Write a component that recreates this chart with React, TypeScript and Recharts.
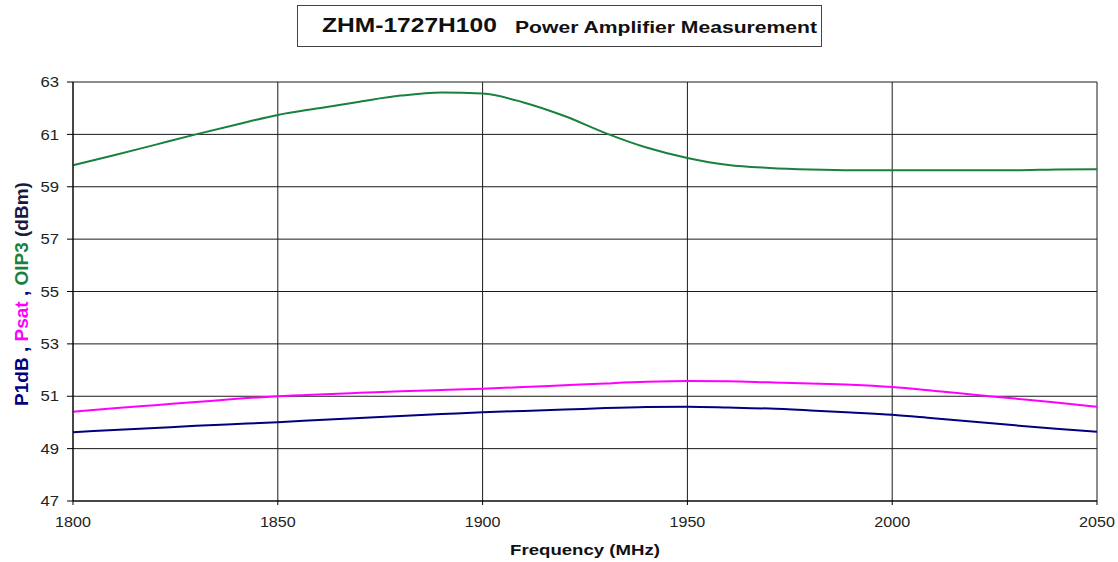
import React from "react";
import { LineChart, Line, XAxis, YAxis, CartesianGrid } from "recharts";

const freq = [1800, 1810, 1820, 1830, 1840, 1850, 1860, 1870, 1880, 1890, 1900, 1910, 1920, 1930, 1940, 1950, 1960, 1970, 1980, 1990, 2000, 2010, 2020, 2030, 2040, 2050];
const p1dB = [49.63, 49.71, 49.79, 49.87, 49.94, 50.01, 50.09, 50.17, 50.25, 50.32, 50.39, 50.44, 50.49, 50.55, 50.59, 50.6, 50.57, 50.53, 50.46, 50.38, 50.29, 50.16, 50.03, 49.89, 49.76, 49.64];
const psat = [50.41, 50.54, 50.66, 50.78, 50.9, 51.0, 51.07, 51.13, 51.19, 51.24, 51.29, 51.35, 51.42, 51.49, 51.55, 51.58, 51.57, 51.53, 51.49, 51.44, 51.35, 51.21, 51.06, 50.91, 50.76, 50.6];
const oip3 = [59.82, 60.2, 60.6, 61.0, 61.38, 61.74, 62.0, 62.25, 62.48, 62.6, 62.56, 62.22, 61.7, 61.05, 60.5, 60.1, 59.83, 59.72, 59.66, 59.63, 59.63, 59.63, 59.63, 59.63, 59.66, 59.67];

const xTicks = [1800, 1850, 1900, 1950, 2000, 2050];
const yTicks = [47, 49, 51, 53, 55, 57, 59, 61, 63];

const data = freq.map((f, i) => ({ f, p1dB: p1dB[i], psat: psat[i], oip3: oip3[i] }));

const FONT = '"Liberation Sans", Arial, sans-serif';

const XTick = (props: any) => {
  const { x, y, payload } = props;
  return (
    <g transform={`translate(${x},${y})`}>
      <text transform="scale(1.15,1)" textAnchor="middle" dy="0.71em" fontSize={14} fontFamily={FONT} fill="#222">
        {payload.value}
      </text>
    </g>
  );
};

const YTick = (props: any) => {
  const { x, y, payload } = props;
  return (
    <g transform={`translate(${x},${y})`}>
      <text transform="scale(1.15,1)" textAnchor="end" dy="0.355em" fontSize={14.5} fontFamily={FONT} fill="#222">
        {payload.value}
      </text>
    </g>
  );
};

export default function App() {
  return (
    <div style={{ position: "absolute", left: 0, top: 0, width: 1118, height: 562, background: "#fff", fontFamily: FONT }}>
      <LineChart width={1118} height={562} data={data} margin={{ top: 82, right: 21, bottom: 31, left: 0 }}>
        <CartesianGrid stroke="#1a1a1a" strokeWidth={1} />
        <XAxis
          dataKey="f"
          type="number"
          domain={[1800, 2050]}
          ticks={xTicks}
          height={30}
          stroke="#000"
          tickSize={4}
          tickMargin={12}
          tick={<XTick />}
        />
        <YAxis
          type="number"
          domain={[47, 63]}
          ticks={yTicks}
          width={73}
          stroke="#000"
          tickSize={6}
          tickMargin={8}
          tick={<YTick />}
        />
        <Line type="monotone" dataKey="oip3" stroke="#1A8040" strokeWidth={2} dot={false} isAnimationActive={false} />
        <Line type="monotone" dataKey="psat" stroke="#FF00FF" strokeWidth={2} dot={false} isAnimationActive={false} />
        <Line type="monotone" dataKey="p1dB" stroke="#000080" strokeWidth={2} dot={false} isAnimationActive={false} />
      </LineChart>
      <svg width={1118} height={562} style={{ position: "absolute", left: 0, top: 0, pointerEvents: "none" }}>
        <text transform="translate(28,294) rotate(-90)" textAnchor="middle" fontSize={19} fontWeight="bold" fontFamily={FONT}>
          <tspan fill="#000080">P1dB , </tspan>
          <tspan fill="#FF00FF">Psat</tspan>
          <tspan fill="#000080"> , </tspan>
          <tspan fill="#1A8040">OIP3</tspan>
          <tspan fill="#1a1a40"> (dBm)</tspan>
        </text>
        <g transform="translate(585,555)">
          <text transform="scale(1.2,1)" textAnchor="middle" fontSize={15.5} fontWeight="bold" fontFamily={FONT} fill="#111">
            Frequency (MHz)
          </text>
        </g>
      </svg>
      <div
        style={{
          position: "absolute",
          left: 297,
          top: 5,
          width: 525,
          height: 42,
          border: "1px solid #444",
          boxSizing: "border-box",
        }}
      >
        <span
          style={{
            position: "absolute",
            left: 24,
            top: 8,
            fontSize: 19.5,
            fontWeight: "bold",
            lineHeight: "22px",
            transform: "scaleX(1.26)",
            transformOrigin: "left",
            whiteSpace: "nowrap",
            color: "#111",
          }}
        >
          ZHM-1727H100
        </span>
        <span
          style={{
            position: "absolute",
            left: 217,
            top: 11,
            fontSize: 16.5,
            fontWeight: "bold",
            lineHeight: "20px",
            transform: "scaleX(1.28)",
            transformOrigin: "left",
            whiteSpace: "nowrap",
            color: "#111",
          }}
        >
          Power Amplifier Measurement
        </span>
      </div>
    </div>
  );
}
